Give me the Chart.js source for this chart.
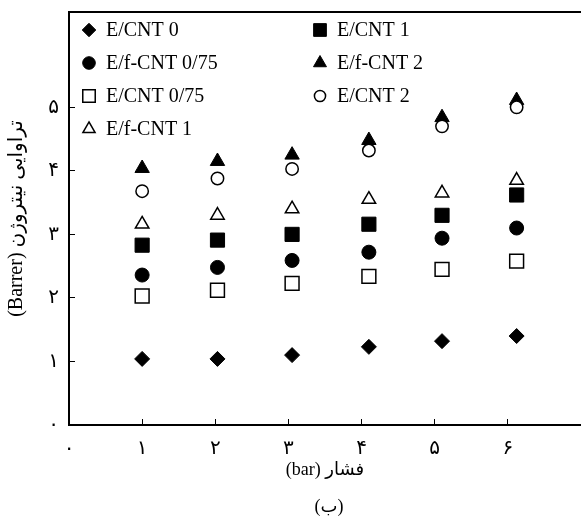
<!DOCTYPE html>
<html>
<head>
<meta charset="utf-8">
<script src="https://cdn.jsdelivr.net/npm/chart.js@4.4.0/dist/chart.umd.min.js"></script>
<style>
  html, body { margin: 0; padding: 0; background: #fff; }
  canvas { display: block; }
</style>
</head>
<body>
<canvas id="permChart" width="581" height="519"></canvas>
<script>
// pressure (bar) where each column of markers sits
const pressure = [1, 2.03, 3.05, 4.1, 5.1, 6.12];

// N2 permeability (Barrer)
const eCnt0      = [1.04, 1.04, 1.10, 1.23, 1.32, 1.40];
const efCnt075   = [2.36, 2.48, 2.59, 2.72, 2.94, 3.10];
const eCnt075    = [2.03, 2.12, 2.23, 2.34, 2.45, 2.58];
const efCnt1     = [3.16, 3.30, 3.40, 3.55, 3.65, 3.85];
const eCnt1      = [2.83, 2.91, 3.00, 3.16, 3.30, 3.62];
const efCnt2     = [4.04, 4.15, 4.25, 4.48, 4.84, 5.11];
const eCnt2      = [3.68, 3.88, 4.03, 4.32, 4.70, 5.00];

const xTicks = [0, 1, 2, 3, 4, 5, 6];
const yTicks = [0, 1, 2, 3, 4, 5];
const xTickLabels = ['۰', '۱', '۲', '۳', '۴', '۵', '۶'];
const yTickLabels = ['۰', '۱', '۲', '۳', '۴', '۵'];

const RLE = '\u202B', PDF = '\u202C';
const xTitle = 'فشار (bar)';
const yTitle = 'تراوایی نیتروژن (Barrer)';
const caption = '(ب)';

const toPoints = (ys) => ys.map((y, i) => ({ x: pressure[i], y: y }));

function serie(label, ys, style, filled, radius, order) {
    return {
        label: label,
        data: toPoints(ys),
        pointStyle: style,
        pointRadius: radius,
        pointHoverRadius: radius,
        backgroundColor: filled ? '#000' : '#fff',
        borderColor: '#000',
        borderWidth: filled ? 1 : 1.5,
        order: order
    };
}

const datasets = [
    serie('E/CNT 0', eCnt0, 'rectRot', true, 7.5, 1),
    serie('E/f-CNT 0/75', efCnt075, 'circle', true, 7, 1),
    serie('E/CNT 0/75', eCnt075, 'rect', false, 9.8, 1),
    serie('E/f-CNT 1', efCnt1, 'triangle', false, 7.8, 1),
    serie('E/CNT 1', eCnt1, 'rect', true, 10, 1),
    serie('E/f-CNT 2', efCnt2, 'triangle', true, 8.3, 1),
    serie('E/CNT 2', eCnt2, 'circle', false, 6.2, 0)
];

// two column legend in the top left corner of the plot
const legendCols = [[0, 1, 2, 3], [4, 5, 6]];

const framePlugin = {
    id: 'frame',
    afterDraw(chart) {
        const { ctx, chartArea } = chart;
        ctx.save();
        // top border line
        ctx.strokeStyle = '#000';
        ctx.lineWidth = 2;
        ctx.beginPath();
        ctx.moveTo(chartArea.left - 1, chartArea.top);
        ctx.lineTo(chartArea.right, chartArea.top);
        ctx.stroke();

        // legend
        const colX = [chartArea.left + 20, chartArea.left + 251];
        legendCols.forEach((col, c) => {
            col.forEach((idx, r) => {
                const ds = chart.data.datasets[idx];
                const y = chartArea.top + 18 + r * 33;
                ctx.fillStyle = ds.backgroundColor;
                ctx.strokeStyle = ds.borderColor;
                ctx.lineWidth = ds.borderWidth;
                if (Chart.helpers && Chart.helpers.drawPoint) {
                    Chart.helpers.drawPoint(ctx, {
                        pointStyle: ds.pointStyle,
                        radius: ds.pointRadius * 0.9,
                        borderWidth: ds.borderWidth,
                        rotation: 0
                    }, colX[c], y);
                }
                ctx.fillStyle = '#000';
                ctx.font = '20px "Liberation Serif", "Times New Roman", serif';
                ctx.textAlign = 'left';
                ctx.textBaseline = 'middle';
                ctx.fillText(ds.label, colX[c] + 17, y + 1);
            });
        });

        // figure caption
        ctx.font = '18px "Liberation Serif", "DejaVu Sans", serif';
        ctx.textAlign = 'center';
        ctx.textBaseline = 'middle';
        ctx.fillStyle = '#000';
        ctx.fillText(RLE + caption + PDF, (chartArea.left + chartArea.right) / 2 + 4, 507);
        ctx.restore();
    }
};

new Chart(document.getElementById('permChart'), {
    type: 'scatter',
    data: { datasets: datasets },
    options: {
        responsive: false,
        animation: false,
        layout: { autoPadding: false, padding: { top: 12, right: 0, left: 0, bottom: 0 } },
        plugins: {
            legend: { display: false },
            tooltip: { enabled: false }
        },
        scales: {
            x: {
                type: 'linear',
                min: 0,
                max: 7,
                afterBuildTicks: (scale) => { scale.ticks = xTicks.map(v => ({ value: v })); },
                afterFit: (scale) => {
                    scale.height = 94;
                    scale.paddingLeft = 0;
                    scale.paddingRight = 0;
                },
                border: { color: '#000', width: 2 },
                grid: { drawOnChartArea: false, tickLength: -6, color: '#000', lineWidth: 1 },
                ticks: {
                    padding: 18,
                    color: '#000',
                    font: { family: '"DejaVu Sans"', size: 20 },
                    callback: (v) => xTickLabels[xTicks.indexOf(v)]
                },
                title: {
                    display: true,
                    text: RLE + xTitle + PDF,
                    color: '#000',
                    font: { family: '"Liberation Serif", "DejaVu Sans", serif', size: 18 },
                    padding: { top: 0, bottom: 38 }
                }
            },
            y: {
                type: 'linear',
                min: 0,
                max: 6.5,
                afterBuildTicks: (scale) => { scale.ticks = yTicks.map(v => ({ value: v })); },
                afterFit: (scale) => {
                    scale.width = 69;
                    scale.paddingTop = 0;
                    scale.paddingBottom = 0;
                },
                border: { color: '#000', width: 2 },
                grid: { drawOnChartArea: false, tickLength: -6, color: '#000', lineWidth: 1 },
                ticks: {
                    padding: 16,
                    color: '#000',
                    font: { family: '"DejaVu Sans"', size: 20 },
                    callback: (v) => yTickLabels[yTicks.indexOf(v)]
                },
                title: {
                    display: true,
                    text: RLE + yTitle + PDF,
                    color: '#000',
                    font: { family: '"Liberation Serif", "DejaVu Sans", serif', size: 20 },
                    padding: { top: 5, bottom: 0 }
                }
            }
        }
    },
    plugins: [framePlugin]
});
</script>
</body>
</html>
